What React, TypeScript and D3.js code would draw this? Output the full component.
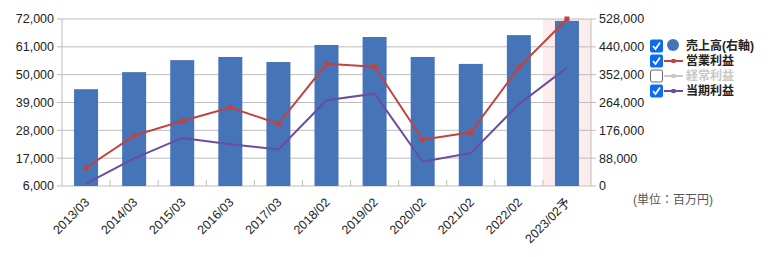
import React from "react";
import * as d3 from "d3";

const categories = ["2013/03","2014/03","2015/03","2016/03","2017/03","2018/02","2019/02","2020/02","2021/02","2022/02","2023/02予"];
const sales = [306000,360000,398000,408000,392000,446000,471000,408000,386000,477000,522000];
const operatingProfit = [13200,25900,31700,37000,30600,54300,53100,24300,27200,52900,72000];
const netProfit = [6900,16900,25000,22500,20400,39900,42500,15600,19000,38300,52800];
const leftTicks = [6000,17000,28000,39000,50000,61000,72000];
const rightTicks = [0,88000,176000,264000,352000,440000,528000];
const legendItems = [
  { label: "売上高(右軸)", checked: true, kind: "circle", color: "#4674b8" },
  { label: "営業利益", checked: true, kind: "line", color: "#c0433f" },
  { label: "経常利益", checked: false, kind: "line", color: "#c8c8c8" },
  { label: "当期利益", checked: true, kind: "line", color: "#6a4ca0" },
];

const W = 768, H = 257;
const L = 62, R = 591, T = 19, B = 186;
const FONT = "'Liberation Sans', Arial, 'Noto Sans CJK JP', sans-serif";

export default function App() {
  const x = d3.scaleBand<string>().domain(categories).range([L, R]);
  const yL = d3.scaleLinear().domain([6000, 72000]).range([B, T]);
  const yR = d3.scaleLinear().domain([0, 528000]).range([B, T]);
  const bw = x.bandwidth();
  const cx = (c: string) => (x(c) as number) + bw / 2;
  const fmt = d3.format(",");
  const line = d3.line<number>().x((_, i) => cx(categories[i])).y((d) => yL(d));
  const last = categories[categories.length - 1];

  return (
    <svg width={W} height={H} style={{ position: "absolute", left: 0, top: 0 }} fontFamily={FONT}>
      <rect x={x(last)} y={T} width={bw} height={B - T} fill="#fdecec" />
      {leftTicks.map((t) => (
        <line key={t} x1={L - 5} x2={R + 5} y1={yL(t)} y2={yL(t)} stroke="#bdbdbd" strokeWidth={1} />
      ))}
      <line x1={L} x2={L} y1={T} y2={B} stroke="#bdbdbd" />
      <line x1={R} x2={R} y1={T} y2={B} stroke="#bdbdbd" />
      {categories.slice(1).map((c) => (
        <line key={c} x1={x(c)} x2={x(c)} y1={B} y2={B - 6} stroke="#bdbdbd" />
      ))}
      {categories.map((c, i) => (
        <rect key={c} x={cx(c) - 12} width={24} y={yR(sales[i])} height={B - yR(sales[i])} fill="#4674b8" />
      ))}
      <path d={line(netProfit) || ""} fill="none" stroke="#6a4ca0" strokeWidth={2} />
      <path d={line(operatingProfit) || ""} fill="none" stroke="#c0433f" strokeWidth={2} />
      {operatingProfit.map((v, i) => (
        <rect key={i} x={cx(categories[i]) - 2.5} y={yL(v) - 2.5} width={5} height={5} fill="#c0433f" />
      ))}
      {leftTicks.map((t) => (
        <text key={t} x={L - 8} y={yL(t)} dy="0.35em" textAnchor="end" fontSize={12.5} fill="#222">{fmt(t)}</text>
      ))}
      {rightTicks.map((t) => (
        <text key={t} x={R + 8} y={yR(t)} dy="0.35em" textAnchor="start" fontSize={12.5} fill="#222">{fmt(t)}</text>
      ))}
      {categories.map((c) => (
        <text key={c} transform={`translate(${cx(c) + 1},${B + 14}) rotate(-45)`} textAnchor="end" dy="0.35em" fontSize={12.5} fill="#222">{c}</text>
      ))}
      <text x={633} y={200} dy="0.35em" fontSize={12} fill="#555">(単位：百万円)</text>
      {legendItems.map((it, i) => {
        const y = 46 + i * 15;
        return (
          <g key={it.label}>
            {it.checked ? (
              <g>
                <rect x={650} y={y - 6.5} width={13} height={13} rx={2} fill="#0a6cf0" />
                <path d={`M${653},${y} L${655.5},${y + 3} L${660},${y - 3.5}`} fill="none" stroke="#fff" strokeWidth={1.8} />
              </g>
            ) : (
              <rect x={650.5} y={y - 6} width={12} height={12} rx={2} fill="#fff" stroke="#666" />
            )}
            {it.kind === "circle" ? (
              <circle cx={673} cy={y - 1} r={6} fill={it.color} />
            ) : (
              <g>
                <line x1={664} x2={683} y1={y} y2={y} stroke={it.color} strokeWidth={2} />
                <rect x={671.5} y={y - 2} width={4} height={4} fill={it.color} />
              </g>
            )}
            <text x={686} y={y} dy="0.35em" fontSize={12} fontWeight="bold" fill={it.checked ? "#222" : "#c8c8c8"}>{it.label}</text>
          </g>
        );
      })}
    </svg>
  );
}
